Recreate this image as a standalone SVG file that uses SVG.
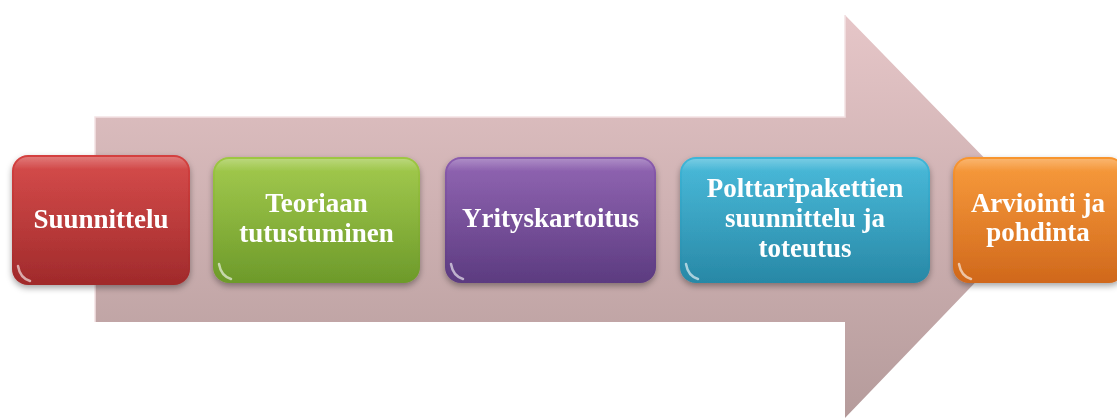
<svg xmlns="http://www.w3.org/2000/svg" width="1117" height="419" viewBox="0 0 1117 419">
<style>
.lbl{font-family:"Liberation Serif","Times New Roman",serif;font-weight:bold;font-size:27px;fill:#ffffff;text-anchor:middle}
.gloss{fill:url(#gloss)}
.spec{fill:none;stroke:#ffffff;stroke-width:2.5;stroke-linecap:round;opacity:0.6}
</style>
<defs>
<linearGradient id="arrowG" x1="0" y1="0" x2="0" y2="1">
<stop offset="0" stop-color="#e6c6c8"/>
<stop offset="1" stop-color="#b59b9b"/>
</linearGradient>
<linearGradient id="gRed" x1="0" y1="0" x2="0" y2="1"><stop offset="0" stop-color="#d4403f"/><stop offset="1" stop-color="#a02a2b"/></linearGradient>
<linearGradient id="gGreen" x1="0" y1="0" x2="0" y2="1"><stop offset="0" stop-color="#9dc742"/><stop offset="1" stop-color="#6d9a2a"/></linearGradient>
<linearGradient id="gPurple" x1="0" y1="0" x2="0" y2="1"><stop offset="0" stop-color="#8a5bae"/><stop offset="1" stop-color="#5c3b80"/></linearGradient>
<linearGradient id="gCyan" x1="0" y1="0" x2="0" y2="1"><stop offset="0" stop-color="#3db6d8"/><stop offset="1" stop-color="#2888a6"/></linearGradient>
<linearGradient id="gOrange" x1="0" y1="0" x2="0" y2="1"><stop offset="0" stop-color="#f8952f"/><stop offset="1" stop-color="#d0681c"/></linearGradient>
<linearGradient id="gloss" x1="0" y1="0" x2="0" y2="1">
<stop offset="0" stop-color="#ffffff" stop-opacity="0.3"/>
<stop offset="0.1" stop-color="#ffffff" stop-opacity="0.06"/>
<stop offset="1" stop-color="#ffffff" stop-opacity="0"/>
</linearGradient>
<filter id="sh" x="-10%" y="-10%" width="120%" height="125%">
<feDropShadow dx="0" dy="3" stdDeviation="3" flood-color="#000" flood-opacity="0.35"/>
</filter>
</defs>
<g id="arrow">
<polygon points="95,117 845,117 845,15 1040,215 845,418 845,322 95,322" fill="url(#arrowG)"/>
<polyline points="95,322 95,117 845,117 845,15" fill="none" stroke="#f3e2e3" stroke-width="1.5"/>
</g>
<g id="node1" filter="url(#sh)">
<rect x="12" y="155" width="178" height="130" rx="16" fill="url(#gRed)"/>
<rect x="14" y="157" width="174" height="126" rx="14" class="gloss"/>
<path class="spec" d="M18,266 Q20,278 30,281"/>
<text class="lbl" x="101" y="228">Suunnittelu</text>
</g>
<g id="node2" filter="url(#sh)">
<rect x="213" y="157" width="207" height="126" rx="16" fill="url(#gGreen)"/>
<rect x="215" y="159" width="203" height="122" rx="14" class="gloss"/>
<path class="spec" d="M219,264 Q221,276 231,279"/>
<text class="lbl" x="316.5" y="212">Teoriaan</text>
<text class="lbl" x="316.5" y="242">tutustuminen</text>
</g>
<g id="node3" filter="url(#sh)">
<rect x="445" y="157" width="211" height="126" rx="16" fill="url(#gPurple)"/>
<rect x="447" y="159" width="207" height="122" rx="14" class="gloss"/>
<path class="spec" d="M451,264 Q453,276 463,279"/>
<text class="lbl" x="550.5" y="227">Yrityskartoitus</text>
</g>
<g id="node4" filter="url(#sh)">
<rect x="680" y="157" width="250" height="126" rx="16" fill="url(#gCyan)"/>
<rect x="682" y="159" width="246" height="122" rx="14" class="gloss"/>
<path class="spec" d="M686,264 Q688,276 698,279"/>
<text class="lbl" x="805" y="197">Polttaripakettien</text>
<text class="lbl" x="805" y="227">suunnittelu ja</text>
<text class="lbl" x="805" y="257">toteutus</text>
</g>
<g id="node5" filter="url(#sh)">
<rect x="953" y="157" width="172" height="126" rx="16" fill="url(#gOrange)"/>
<rect x="955" y="159" width="168" height="122" rx="14" class="gloss"/>
<path class="spec" d="M959,264 Q961,276 971,279"/>
<text class="lbl" x="1038" y="212">Arviointi ja</text>
<text class="lbl" x="1038" y="241">pohdinta</text>
</g>
<g id="connectors"></g>
</svg>
